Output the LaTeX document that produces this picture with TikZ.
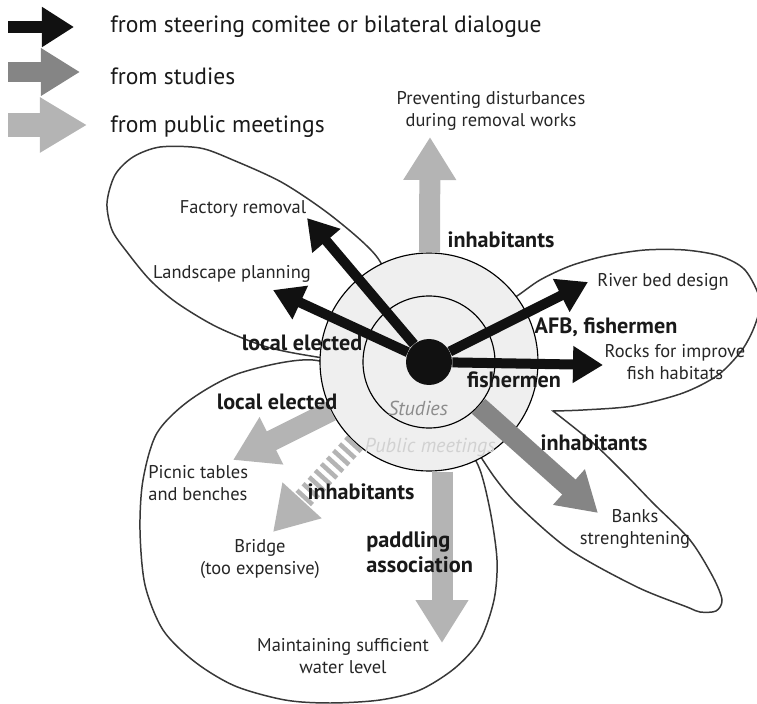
\documentclass[tikz,border=0pt]{standalone}
\usepackage{fontspec}
\setmainfont{PT Sans}
\usetikzlibrary{arrows.meta}

\definecolor{steerc}{HTML}{111111}
\definecolor{studyc}{HTML}{858585}
\definecolor{meetc}{HTML}{B4B4B4}
\definecolor{ringc}{HTML}{EFEFEF}
\definecolor{petalc}{HTML}{383838}

\tikzset{
  petal/.style={draw=petalc, line width=0.85pt, fill=white},
  ring/.style={circle, draw=black, line width=0.65pt, fill=ringc, inner sep=0pt},
  steer/.style={draw=steerc, line width=0.2cm, -{Triangle[length=0.6cm,width=0.7cm]}},
  study/.style={draw=studyc, line width=0.4cm, -{Triangle[length=0.78cm,width=0.9cm]}},
  meeting/.style={draw=meetc, line width=0.42cm, -{Triangle[length=0.86cm,width=1cm]}},
  legend/.style={inner sep=0pt, anchor=west, font=\fontsize{13.4}{16}\selectfont, text=black!90},
  goal/.style={inner sep=0pt, align=center, font=\fontsize{10.5}{12.5}\selectfont, text=black!85},
  actor/.style={inner sep=0pt, font=\fontsize{12.6}{14}\selectfont\bfseries, text=black!90}
}

\begin{document}
\begin{tikzpicture}[x=0.2mm, y=-0.2mm]
  \useasboundingbox (0,0) rectangle (757,704);

  % legend
  \node[legend] (legsteer) at (110,27) {from steering comitee or bilateral dialogue};
  \node[legend] (legstudy) at (110,76) {from studies};
  \node[legend] (legmeet) at (110,127) {from public meetings};
  \coordinate (ks0) at (8,27);   \coordinate (ks1) at (74,27);
  \coordinate (kt0) at (8,72);   \coordinate (kt1) at (80,72);
  \coordinate (km0) at (8,125);  \coordinate (km1) at (87,125);
  \draw[steer, line width=0.24cm, -{Triangle[length=0.64cm,width=0.76cm]}] (ks0) -- (ks1);
  \draw[study] (kt0) -- (kt1);
  \draw[meeting, line width=0.48cm, -{Triangle[length=0.94cm,width=1.04cm]}] (km0) -- (km1);

  % petals
  \draw[petal] plot[smooth cycle] coordinates {(395,300) (377,257) (333,217) (283,183)
    (233,160) (200,148) (160,147) (133,157) (115,175) (107,203) (112,230) (127,252)
    (150,280) (177,303) (217,327) (267,347) (317,357) (360,362) (395,340)};
  \draw[petal] plot[smooth cycle] coordinates {(420,420) (380,385) (313,360) (240,373)
    (190,400) (157,433) (143,480) (140,530) (145,585) (163,630) (195,662) (235,686)
    (285,700) (330,703) (380,700) (420,690) (455,668) (480,640) (494,600) (497,560)
    (490,510) (478,465) (455,435)};
  \draw[petal] plot[smooth] coordinates {(470,320) (500,305) (517,296) (540,280)
    (570,266) (605,256) (645,250) (685,250) (720,256) (745,270) (760,300) (755,325)
    (742,350) (718,375) (683,393) (633,406) (583,410) (553,411)}
    -- plot[smooth] coordinates {(553,411) (593,443) (625,474) (653,503) (690,540)
    (713,577) (722,600) (716,611) (700,612) (687,607) (637,587) (570,550) (520,507)
    (495,478) (470,440)} -- cycle;

  % rings
  \node[ring, minimum size=4.36cm] (meetings) at (429,362) {};
  \node[ring, minimum size=2.64cm] (studies) at (429,362) {};
  \node[circle, fill=steerc, minimum size=0.92cm, inner sep=0pt] (core) at (429,362) {};
  \node[inner sep=0pt, font=\fontsize{11.5}{14}\selectfont\itshape, text=black!45] (studlab) at (418,408) {Studies};
  \node[inner sep=0pt, font=\fontsize{11.5}{14}\selectfont\itshape, text=black!18] (meetlab) at (430,447) {Public meetings};

  % arrow ends
  \coordinate (tfactory) at (307,218);
  \coordinate (tland) at (273,290);
  \coordinate (triver) at (588,282);
  \coordinate (trocks) at (603,365);
  \coordinate (tbanks) at (598,513);
  \coordinate (tprev) at (430,137);
  \coordinate (tpicnic) at (233,460);
  \coordinate (tbridge) at (273,532);
  \coordinate (twater) at (442,643);

  \draw[meeting] (meetings) -- (tprev);
  \draw[meeting] (meetings) -- (tpicnic);
  \draw[meeting, dash pattern=on 0.09cm off 0.09cm] (meetings) -- (tbridge);
  \draw[meeting] (meetings.south -| twater) -- (twater);
  \draw[study] (studies) -- (tbanks);
  \draw[steer] (core) -- (tfactory);
  \draw[steer] (core) -- (tland);
  \draw[steer] (core) -- (triver);
  \draw[steer] (core) -- (trocks);

  % goals
  \node[goal] (prev) at (491,111) {Preventing disturbances\\during removal works};
  \node[goal] (factory) at (243,209) {Factory removal};
  \node[goal] (land) at (232,274) {Landscape planning};
  \node[goal] (river) at (663,282) {River bed design};
  \node[goal] (rocks) at (675,362) {Rocks for improve\\fish habitats};
  \node[goal] (banks) at (635,529) {Banks\\strenghtening};
  \node[goal, align=left, anchor=west] (picnic) at (148,483) {Picnic tables\\and benches};
  \node[goal] (bridge) at (260,559) {Bridge\\(too expensive)};
  \node[goal] (water) at (343,656) {Maintaining sufficient\\water level};

  % actors
  \node[actor] (inhtop) at (501,240) {inhabitants};
  \node[actor] (elecup) at (302,343) {local elected};
  \node[actor] (afb) at (606,327) {AFB, fishermen};
  \node[actor] (fish) at (514,380) {fishermen};
  \node[actor] (eleclow) at (277,402) {local elected};
  \node[actor] (inhright) at (594,443) {inhabitants};
  \node[actor] (inhbridge) at (361,492) {inhabitants};
  \node[actor, align=left, anchor=west, font=\fontsize{12.7}{14.4}\selectfont\bfseries] (paddle) at (366,552) {paddling\\association};
\end{tikzpicture}
\end{document}
